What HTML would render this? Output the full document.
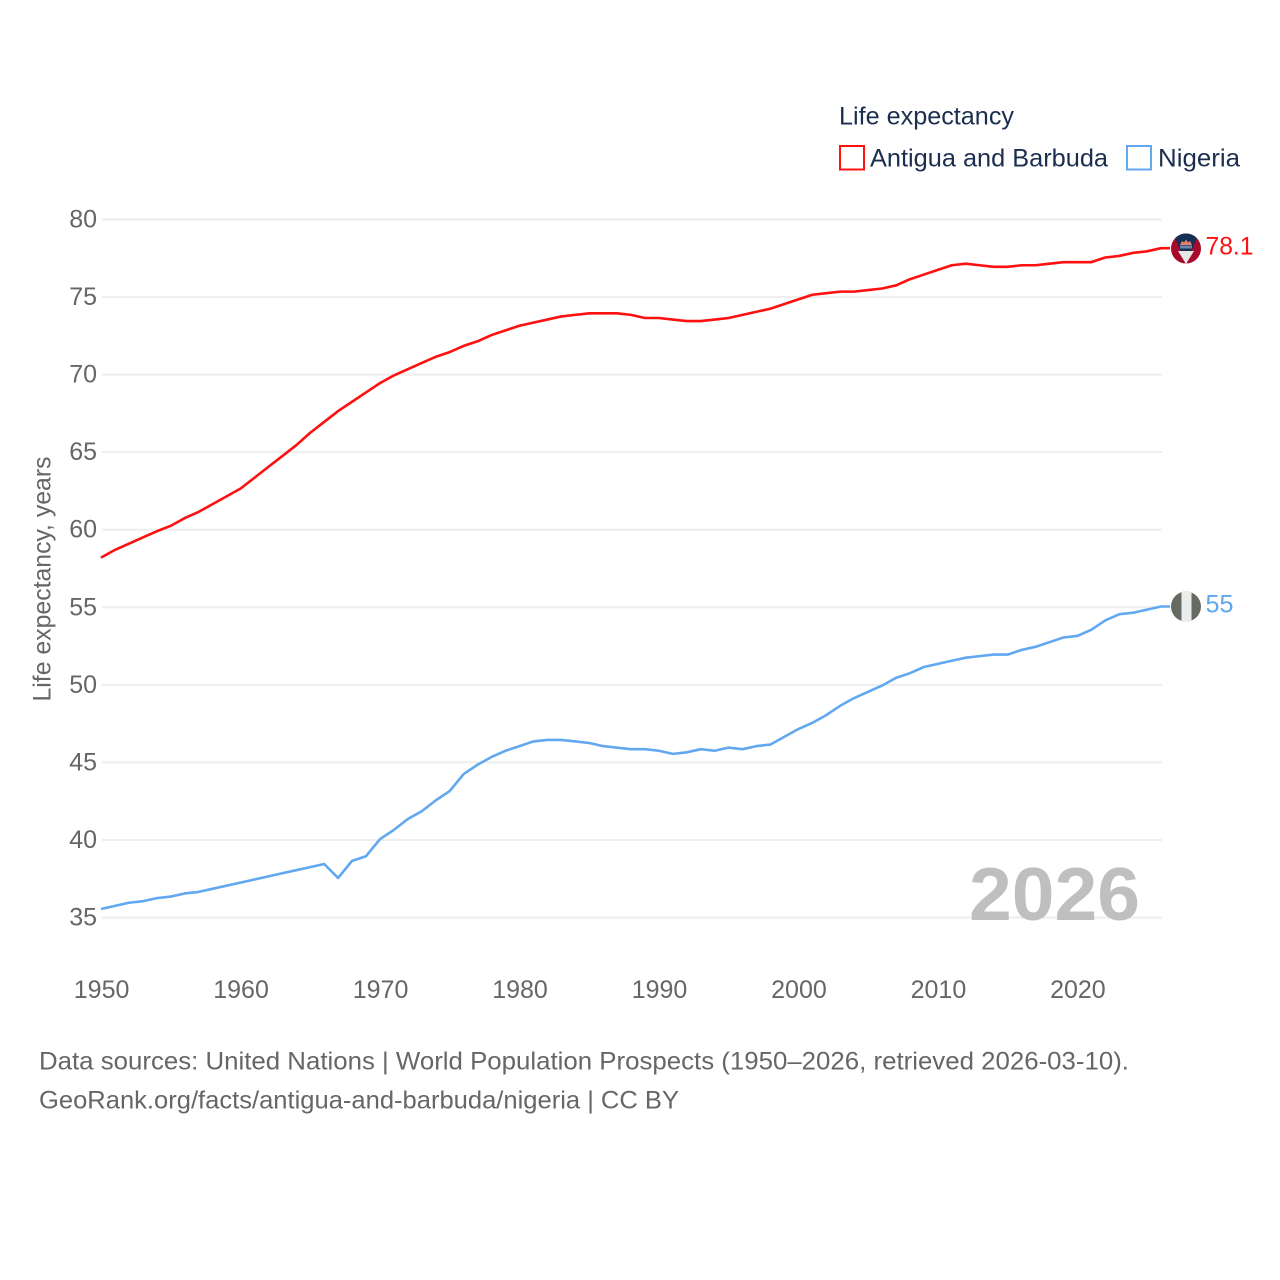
<!DOCTYPE html>
<html lang="en">
<head>
<meta charset="utf-8">
<title>Life expectancy: Antigua and Barbuda vs Nigeria</title>
<style>
html,body{margin:0;padding:0;background:#fff;width:1280px;height:1280px;overflow:hidden}
svg{display:block}
text{font-family:"Liberation Sans",sans-serif}
</style>
</head>
<body>
<svg id="chart" xmlns="http://www.w3.org/2000/svg" width="1280" height="1280" viewBox="0 0 1280 1280">
  <rect width="1280" height="1280" fill="#fff"/>
  <g id="grid"></g>
  <g id="yticks"></g>
  <g id="xticks"></g>
  <text transform="translate(50.5,579) rotate(-90)" text-anchor="middle" font-size="25" fill="#666" textLength="245" lengthAdjust="spacingAndGlyphs">Life expectancy, years</text>

  <text x="969" y="920" font-size="75" font-weight="700" fill="#bfbfbf" textLength="171" lengthAdjust="spacingAndGlyphs">2026</text>

  <g id="series"></g>

  <g>
    <text x="839" y="124.5" font-size="25" fill="#1a2e4f" textLength="175" lengthAdjust="spacingAndGlyphs">Life expectancy</text>
    <g>
      <rect x="840" y="146" width="24" height="23.5" fill="#fff" stroke="#ff1010" stroke-width="2"/>
      <text x="870" y="166.5" font-size="25" fill="#1a2e4f" textLength="238" lengthAdjust="spacingAndGlyphs">Antigua and Barbuda</text>
    </g>
    <g>
      <rect x="1127" y="146" width="24" height="23.5" fill="#fff" stroke="#62a8f0" stroke-width="2"/>
      <text x="1158" y="166.5" font-size="25" fill="#1a2e4f" textLength="82" lengthAdjust="spacingAndGlyphs">Nigeria</text>
    </g>
  </g>

  <defs>
    <clipPath id="clip-ag"><circle cx="1186" cy="248.5" r="15"/></clipPath>
    <clipPath id="clip-ng"><circle cx="1186" cy="606.5" r="15"/></clipPath>
  </defs>
  <g clip-path="url(#clip-ag)">
    <rect x="1171" y="233" width="30" height="31" fill="#a80a2c"/>
    <polygon points="1173,233 1199,233 1186,264" fill="#152f55"/>
    <polygon points="1178,251 1194,251 1186,264" fill="#e8e8e8"/>
    <rect x="1180" y="245.5" width="12" height="3" fill="#6e86a8"/>
    <polygon points="1180,245 1182,241 1184,242.5 1186,239.5 1188,242.5 1190,241 1192,245" fill="#e8806a"/>
  </g>
  <g clip-path="url(#clip-ng)">
    <rect x="1171" y="591" width="30" height="31" fill="#666b62"/>
    <rect x="1181.5" y="591" width="10" height="31" fill="#ececec"/>
  </g>
  <text x="1205.5" y="254.5" font-size="25" fill="#ff1010" textLength="48" lengthAdjust="spacingAndGlyphs">78.1</text>
  <text x="1205.5" y="612.5" font-size="25" fill="#5ea6ee" textLength="28" lengthAdjust="spacingAndGlyphs">55</text>

  <text x="39" y="1069.5" font-size="25" fill="#666" textLength="1090" lengthAdjust="spacingAndGlyphs">Data sources: United Nations | World Population Prospects (1950–2026, retrieved 2026-03-10).</text>
  <text x="39" y="1108.5" font-size="25" fill="#666" textLength="640" lengthAdjust="spacingAndGlyphs">GeoRank.org/facts/antigua-and-barbuda/nigeria | CC BY</text>
</svg>
<script>
const startYear = 1950;
const yTickValues = [35, 40, 45, 50, 55, 60, 65, 70, 75, 80];
const xTickValues = [1950, 1960, 1970, 1980, 1990, 2000, 2010, 2020];
const antiguaValues = [
  58.2, 58.7, 59.1, 59.5, 59.9, 60.25, 60.75, 61.15, 61.65, 62.15,
  62.65, 63.35, 64.05, 64.75, 65.45, 66.25, 66.95, 67.65, 68.25, 68.85,
  69.45, 69.95, 70.35, 70.75, 71.15, 71.45, 71.85, 72.15, 72.55, 72.85,
  73.15, 73.35, 73.55, 73.75, 73.85, 73.95, 73.95, 73.95, 73.85, 73.65,
  73.65, 73.55, 73.45, 73.45, 73.55, 73.65, 73.85, 74.05, 74.25, 74.55,
  74.85, 75.15, 75.25, 75.35, 75.35, 75.45, 75.55, 75.75, 76.15, 76.45,
  76.75, 77.05, 77.15, 77.05, 76.95, 76.95, 77.05, 77.05, 77.15, 77.25,
  77.25, 77.25, 77.55, 77.65, 77.85, 77.95, 78.15
];
const nigeriaValues = [
  35.55, 35.75, 35.95, 36.05, 36.25, 36.35, 36.55, 36.65, 36.85, 37.05,
  37.25, 37.45, 37.65, 37.85, 38.05, 38.25, 38.45, 37.55, 38.65, 38.95,
  40.05, 40.65, 41.35, 41.85, 42.55, 43.15, 44.25, 44.85, 45.35, 45.75,
  46.05, 46.35, 46.45, 46.45, 46.35, 46.25, 46.05, 45.95, 45.85, 45.85,
  45.75, 45.55, 45.65, 45.85, 45.75, 45.95, 45.85, 46.05, 46.15, 46.65,
  47.15, 47.55, 48.05, 48.65, 49.15, 49.55, 49.95, 50.45, 50.75, 51.15,
  51.35, 51.55, 51.75, 51.85, 51.95, 51.95, 52.25, 52.45, 52.75, 53.05,
  53.15, 53.55, 54.15, 54.55, 54.65, 54.85, 55.05
];

const NS = 'http://www.w3.org/2000/svg';
function xScale(year) { return 101 + (year - 1950) * (1161 - 101) / 76; }
function yScale(v) { return 219.5 + (80 - v) * (917.5 - 219.5) / 45; }

const gridLayer = document.getElementById('grid');
const yLayer = document.getElementById('yticks');
const xLayer = document.getElementById('xticks');
const seriesLayer = document.getElementById('series');

yTickValues.forEach(function (v) {
  const line = document.createElementNS(NS, 'line');
  
  
  line.setAttribute('x1', 102);
  line.setAttribute('x2', 1162);
  line.setAttribute('y1', yScale(v));
  line.setAttribute('y2', yScale(v));
  line.setAttribute('stroke', '#eeeeee');
  line.setAttribute('stroke-width', '2');
  gridLayer.appendChild(line);

  const label = document.createElementNS(NS, 'text');
  
  
  label.setAttribute('x', 97);
  label.setAttribute('y', yScale(v) + 8);
  label.setAttribute('text-anchor', 'end');
  label.setAttribute('font-size', '25');
  label.setAttribute('fill', '#666');
  label.textContent = v;
  yLayer.appendChild(label);
});

xTickValues.forEach(function (year) {
  const label = document.createElementNS(NS, 'text');
  
  
  label.setAttribute('x', xScale(year) + 0.6);
  label.setAttribute('y', 998);
  label.setAttribute('text-anchor', 'middle');
  label.setAttribute('font-size', '25');
  label.setAttribute('fill', '#666');
  label.textContent = year;
  xLayer.appendChild(label);
});

function seriesPoints(values) {
  const pts = values.map(function (v, i) {
    return xScale(startYear + i).toFixed(2) + ',' + yScale(v).toFixed(2);
  });
  const last = values[values.length - 1];
  pts.push((xScale(startYear + values.length - 1) + 9).toFixed(2) + ',' + yScale(last).toFixed(2));
  return pts.join(' ');
}

const antiguaLine = document.createElementNS(NS, 'polyline');


antiguaLine.setAttribute('points', seriesPoints(antiguaValues));
antiguaLine.setAttribute('fill', 'none');
antiguaLine.setAttribute('stroke', '#ff1010');
antiguaLine.setAttribute('stroke-width', '2.6');
antiguaLine.setAttribute('stroke-linejoin', 'round');
seriesLayer.appendChild(antiguaLine);

const nigeriaLine = document.createElementNS(NS, 'polyline');


nigeriaLine.setAttribute('points', seriesPoints(nigeriaValues));
nigeriaLine.setAttribute('fill', 'none');
nigeriaLine.setAttribute('stroke', '#62a8f0');
nigeriaLine.setAttribute('stroke-width', '2.6');
nigeriaLine.setAttribute('stroke-linejoin', 'round');
seriesLayer.appendChild(nigeriaLine);
</script>
</body>
</html>
